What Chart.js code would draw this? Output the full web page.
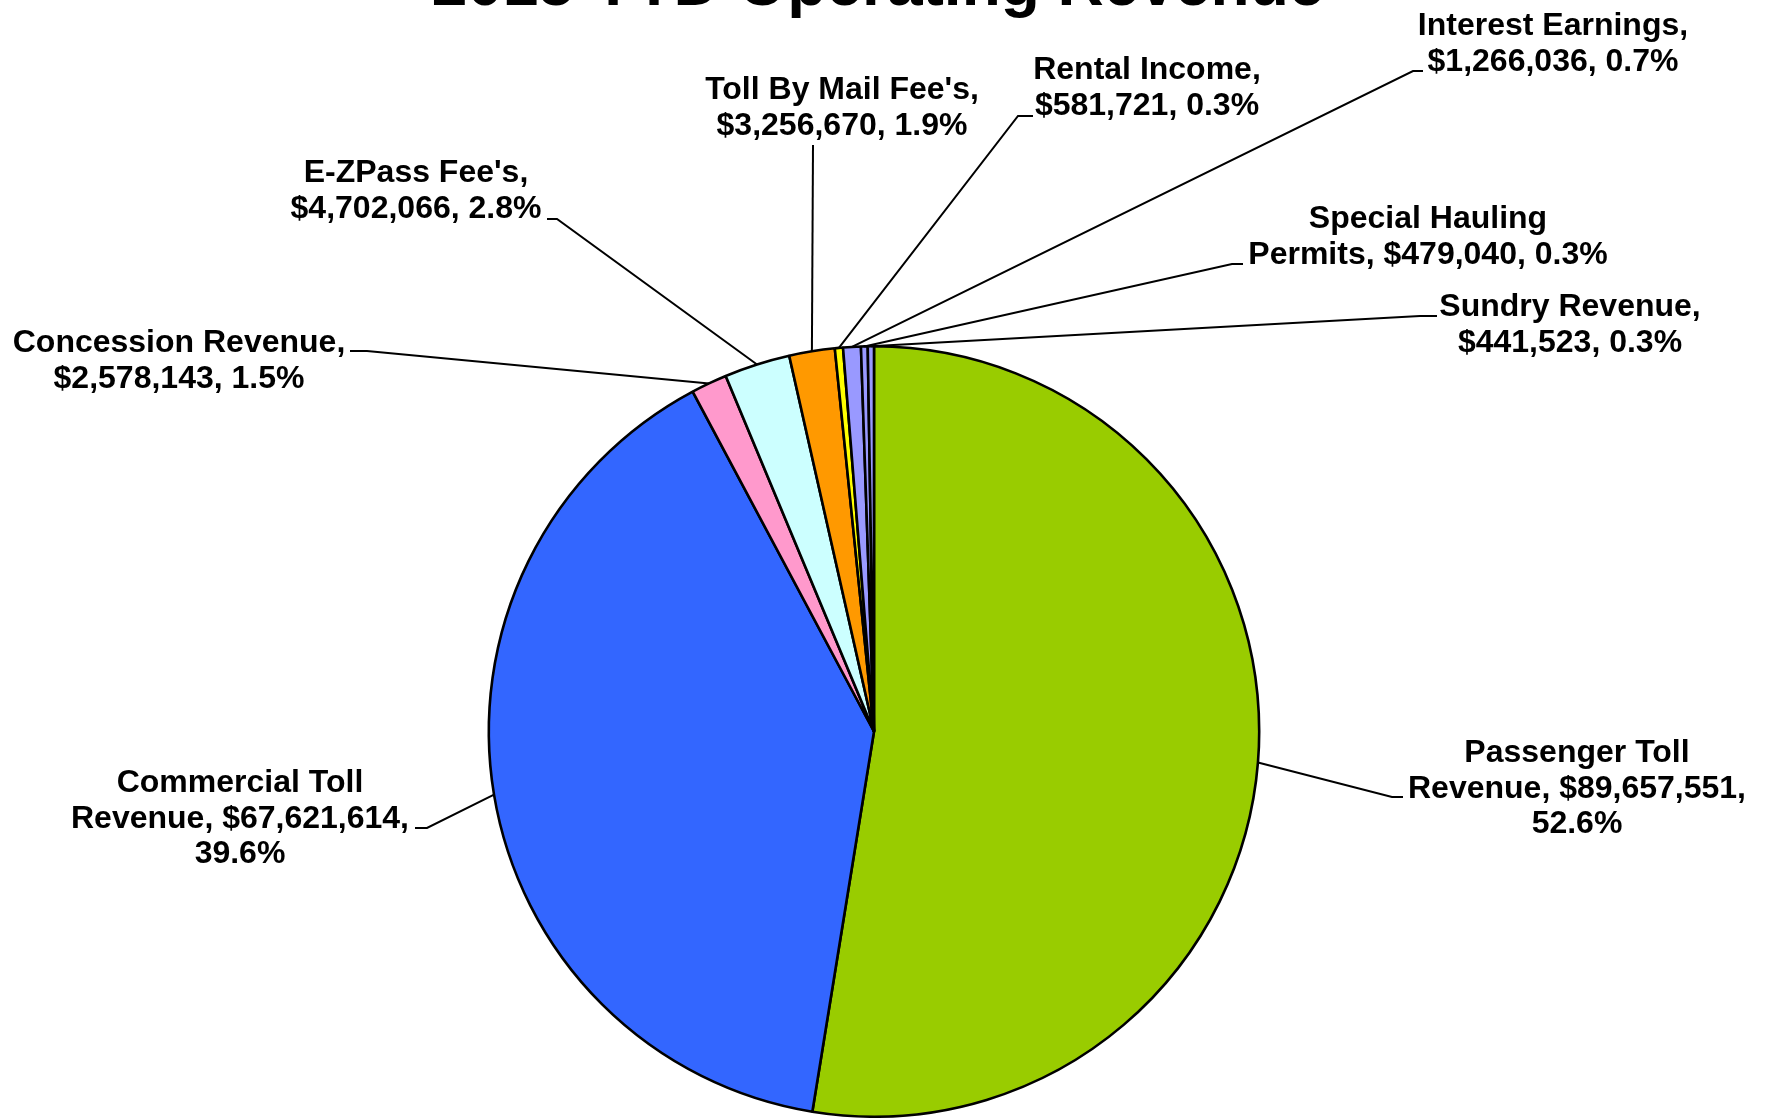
<!DOCTYPE html>
<html><head><meta charset="utf-8">
<script src="https://cdn.jsdelivr.net/npm/chart.js@4.4.1/dist/chart.umd.min.js"></script>
<style>html,body{margin:0;padding:0;background:#fff;overflow:hidden}canvas{display:block}</style>
</head><body>
<canvas id="c" width="1765" height="1118"></canvas>
<script>
const chartTitle = '2015 YTD Operating Revenue';
const categories = ['Passenger Toll Revenue', 'Commercial Toll Revenue', 'Concession Revenue', "E-ZPass Fee's", "Toll By Mail Fee's", 'Rental Income', 'Interest Earnings', 'Special Hauling Permits', 'Sundry Revenue'];
const revenue = [89657551, 67621614, 2578143, 4702066, 3256670, 581721, 1266036, 479040, 441523];
const sliceColors = ['#99CC00', '#3366FF', '#FF99CC', '#CCFFFF', '#FF9900', '#FFFF00', '#9999FF', '#9999FF', '#9999FF'];

// label placement: text centre x, first baseline y, wrap width, leader elbow, stub end x
const labelLayout = [
  {x: 1577, y: 762, w: 340, elbow: [1392, 797], stub: 1403},
  {x: 240,  y: 792, w: 340, elbow: [427, 828],  stub: 415},
  {x: 179,  y: 352, w: 335, elbow: [367, 351],  stub: 350},
  {x: 416,  y: 182, w: 260, elbow: [557, 219],  stub: 547},
  {x: 842,  y: 99,  w: 280, elbow: [813, 145],  stub: 813},
  {x: 1147, y: 79,  w: 240, elbow: [1018, 116], stub: 1033},
  {x: 1553, y: 35,  w: 280, elbow: [1413, 71],  stub: 1423},
  {x: 1428, y: 228, w: 360, elbow: [1232, 264], stub: 1243},
  {x: 1570, y: 316, w: 270, elbow: [1420, 316], stub: 1437}
];
const LABEL_FONT = 'bold 32px "Liberation Sans", Arial, sans-serif';
const LINE_H = 35.5;

function wrap(ctx, text, maxW) {
  const words = text.split(' ');
  const lines = [];
  let cur = '';
  words.forEach(w => {
    const t = cur ? cur + ' ' + w : w;
    if (cur && ctx.measureText(t).width > maxW) { lines.push(cur); cur = w; }
    else cur = t;
  });
  if (cur) lines.push(cur);
  return lines;
}

const labelPlugin = {
  id: 'sliceLabels',
  afterDatasetsDraw(chart) {
    const ctx = chart.ctx;
    const meta = chart.getDatasetMeta(0);
    const total = revenue.reduce((a, b) => a + b, 0);
    ctx.save();
    ctx.font = LABEL_FONT;
    ctx.fillStyle = '#000';
    ctx.strokeStyle = '#000';
    ctx.lineWidth = 2;
    ctx.textAlign = 'center';
    ctx.textBaseline = 'alphabetic';
    meta.data.forEach((arc, i) => {
      const L = labelLayout[i];
      const mid = (arc.startAngle + arc.endAngle) / 2;
      const px = arc.x + Math.cos(mid) * arc.outerRadius;
      const py = arc.y + Math.sin(mid) * arc.outerRadius;
      ctx.beginPath();
      ctx.moveTo(px, py);
      ctx.lineTo(L.elbow[0], L.elbow[1]);
      ctx.lineTo(L.stub, L.elbow[1]);
      ctx.stroke();
      const pct = (revenue[i] / total * 100).toFixed(1);
      const text = categories[i] + ', $' + revenue[i].toLocaleString('en-US') + ', ' + pct + '%';
      wrap(ctx, text, L.w).forEach((ln, k) => ctx.fillText(ln, L.x, L.y + k * LINE_H));
    });
    ctx.restore();
  },
  afterDraw(chart) {
    const ctx = chart.ctx;
    const meta = chart.getDatasetMeta(0);
    ctx.save();
    ctx.font = 'bold 64px "Liberation Sans", Arial, sans-serif';
    ctx.fillStyle = '#000';
    ctx.textAlign = 'center';
    ctx.textBaseline = 'alphabetic';
    ctx.fillText(chartTitle, meta.data[0].x + 4, 5);
    ctx.restore();
  }
};

new Chart(document.getElementById('c'), {
  type: 'pie',
  data: {
    labels: categories,
    datasets: [{
      data: revenue,
      backgroundColor: sliceColors,
      borderColor: '#000',
      borderWidth: 2.6
    }]
  },
  options: {
    responsive: false,
    animation: false,
    layout: {padding: {left: 487, right: 504, top: 345, bottom: 0}},
    plugins: {legend: {display: false}, tooltip: {enabled: false}, title: {display: false}}
  },
  plugins: [labelPlugin]
});
</script>
</body></html>
